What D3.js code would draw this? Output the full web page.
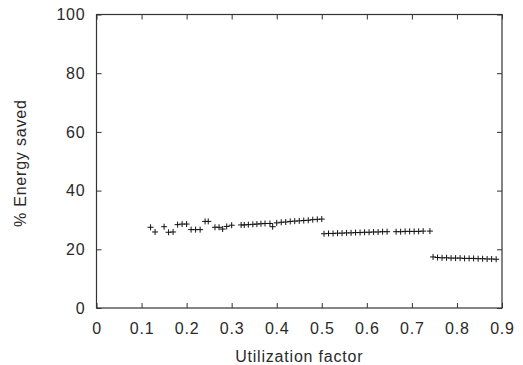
<script src='https://d3js.org/d3.v7.min.js'></script>
<style>
  body { margin: 0; background: #fff; }
  text { font-family: "Liberation Sans", Arial, sans-serif; fill: #2a2a2a; letter-spacing: 0.8px; }
</style>
<svg id="chart" width="523" height="365"></svg>
<script>
  // utilization factor (x) and % energy saved (y)
  const utilA = [0.12,0.13,0.15,0.16,0.17,0.18,0.19,0.20,0.21,0.22,0.23,0.241,0.248,0.263,0.272,0.28,0.289,0.30,
                 0.321,0.328,0.337,0.347,0.356,0.365,0.374,0.385,0.391,0.40,0.41,0.42,0.43,0.44,0.45,0.46,0.47,0.48,0.49,0.50]
  const savedA = [27.5,25.9,27.7,25.8,25.9,28.4,28.6,28.6,26.7,26.7,26.7,29.5,29.5,27.5,27.5,26.9,27.8,28.2,
                  28.3,28.3,28.4,28.5,28.6,28.7,28.8,28.8,27.7,29.0,29.2,29.3,29.5,29.6,29.7,29.8,29.9,30.1,30.2,30.3]
  const utilB = [0.505,0.515,0.525,0.535,0.545,0.555,0.565,0.575,0.585,0.595,0.605,0.615,0.625,0.635,0.645,
                 0.665,0.675,0.685,0.695,0.705,0.715,0.725,0.74]
  const savedB = [25.3,25.4,25.4,25.5,25.5,25.6,25.6,25.7,25.7,25.8,25.8,25.9,25.9,26.0,26.0,
                  26.0,26.0,26.1,26.1,26.1,26.1,26.2,26.2]
  const utilC = [0.747,0.757,0.767,0.777,0.787,0.797,0.807,0.817,0.827,0.837,0.847,0.857,0.867,0.877,0.887]
  const savedC = [17.4,17.2,17.1,17.1,17.0,17.0,17.0,16.9,16.9,16.9,16.8,16.8,16.7,16.7,16.6]
  const xTicks = [0,0.1,0.2,0.3,0.4,0.5,0.6,0.7,0.8,0.9]
  const yTicks = [0,20,40,60,80,100]

  const svg = d3.select("#chart")
  const margin = {top:14.5, right:21, bottom:57, left:96.5}
  const width = svg.attr("width") - margin.left - margin.right
  const height = svg.attr("height") - margin.top - margin.bottom
  const x = d3.scaleLinear().domain([0,0.9]).range([0, width])
  const y = d3.scaleLinear().domain([0,100]).range([height, 0])
  const g = svg.append("g").attr("transform", "translate(" + margin.left + "," + margin.top + ")")

  const points = []
  ;[[utilA,savedA],[utilB,savedB],[utilC,savedC]].forEach(s => {
    s[0].forEach((u, i) => points.push({u:u, v:s[1][i]}))
  })

  // frame
  g.append("rect").attr("width", width).attr("height", height)
    .attr("fill", "none").attr("stroke", "#333").attr("stroke-width", 1.2)

  // axes, ticks pointing inward, mirrored on top/right
  const tk = 5
  const axBottom = g.append("g").attr("transform", "translate(0," + height + ")")
    .call(d3.axisBottom(x).tickValues(xTicks).tickSize(-tk).tickPadding(14.5).tickFormat(d3.format("")))
  const axTop = g.append("g").call(d3.axisTop(x).tickValues(xTicks).tickSize(-tk).tickFormat(""))
  const axLeft = g.append("g").call(d3.axisLeft(y).tickValues(yTicks).tickSize(-tk).tickPadding(11))
  const axRight = g.append("g").attr("transform", "translate(" + width + ",0)")
    .call(d3.axisRight(y).tickValues(yTicks).tickSize(-tk).tickFormat(""))
  ;[axBottom, axTop, axLeft, axRight].forEach(a => {
    a.select(".domain").remove()
    a.selectAll("line").attr("stroke", "#333")
    a.selectAll("text").style("font-size", "16px").attr("fill", "#2a2a2a")
  })

  // "+" markers
  const r = 3
  const marks = g.selectAll(".pt").data(points).enter().append("g")
    .attr("transform", d => "translate(" + x(d.u) + "," + y(d.v) + ")")
  marks.append("line").attr("x1", -r).attr("x2", r).attr("stroke", "#111").attr("stroke-width", 1)
  marks.append("line").attr("y1", -r).attr("y2", r).attr("stroke", "#111").attr("stroke-width", 1)

  // axis titles
  svg.append("text")
    .attr("x", margin.left + width / 2).attr("y", 361.5)
    .style("text-anchor", "middle").style("font-size", "16px")
    .text("Utilization factor")
  svg.append("text")
    .attr("transform", "translate(26," + (margin.top + height / 2 + 2) + ") rotate(-90)")
    .style("text-anchor", "middle").style("font-size", "16px")
    .text("% Energy saved")
</script>
